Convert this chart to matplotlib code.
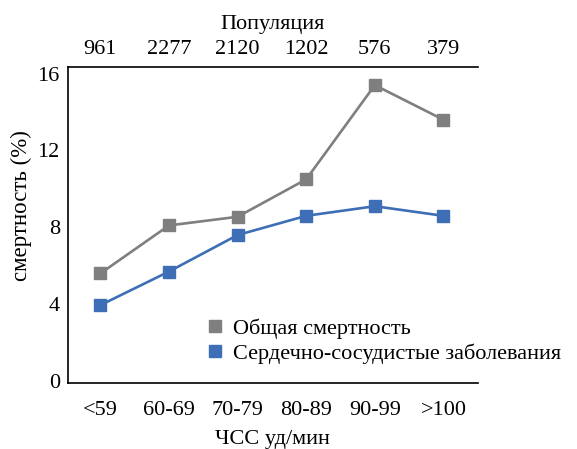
import matplotlib.pyplot as plt
from matplotlib.lines import Line2D

plt.rcParams['font.family'] = ['Liberation Serif', 'DejaVu Serif']

categories = ['<59', '60-69', '70-79', '80-89', '90-99', '>100']
population = ['961', '2277', '2120', '1202', '576', '379']
total_mortality = [5.6, 8.1, 8.55, 10.5, 15.4, 13.6]
cardio_mortality = [3.95, 5.7, 7.6, 8.6, 9.1, 8.6]

gray = '#7f7f7f'
blue = '#3e6fb6'
fs = 16

fig = plt.figure(figsize=(5.77, 4.49), dpi=100)
ax = fig.add_axes([0.118, 0.147, 0.71, 0.704])

x = range(len(categories))
ax.plot(x, total_mortality, color=gray, lw=1.9, marker='s', ms=9)
ax.plot(x, cardio_mortality, color=blue, lw=1.9, marker='s', ms=9)

ax.set_xlim(-0.47, 5.5)
ax.set_ylim(-0.1, 16.35)
ax.set_yticks([0, 4, 8, 12, 16])
ax.set_xticks(list(x))
ax.set_xticklabels(categories)
ax.tick_params(axis='x', length=0, labelsize=fs, pad=13)
ax.tick_params(axis='y', length=0, labelsize=fs, pad=6)
ax.spines['right'].set_visible(False)
for s in ['left', 'bottom', 'top']:
    ax.spines[s].set_linewidth(1.2)

ax.set_ylabel('смертность (%)', fontsize=16.5)
ax.yaxis.set_label_coords(-0.088, 0.56)
ax.set_xlabel('ЧСС уд/мин', fontsize=fs, labelpad=7)

top = ax.secondary_xaxis('top')
top.set_xticks(list(x))
top.set_xticklabels(population)
top.tick_params(length=0, labelsize=fs, pad=5.5)
top.spines['top'].set_visible(False)
top.set_xlabel('Популяция', fontsize=fs, labelpad=8)

handles = [Line2D([], [], color=gray, marker='s', ls='none', ms=8),
           Line2D([], [], color=blue, marker='s', ls='none', ms=8)]
fig.legend(handles, ['Общая смертность', 'Сердечно-сосудистые заболевания'],
           loc='upper left', bbox_to_anchor=(0.338, 0.315), frameon=False,
           fontsize=fs, handlelength=0.8, handletextpad=0.4, labelspacing=0.2,
           borderpad=0)

fig.savefig('out.png', dpi=100)
